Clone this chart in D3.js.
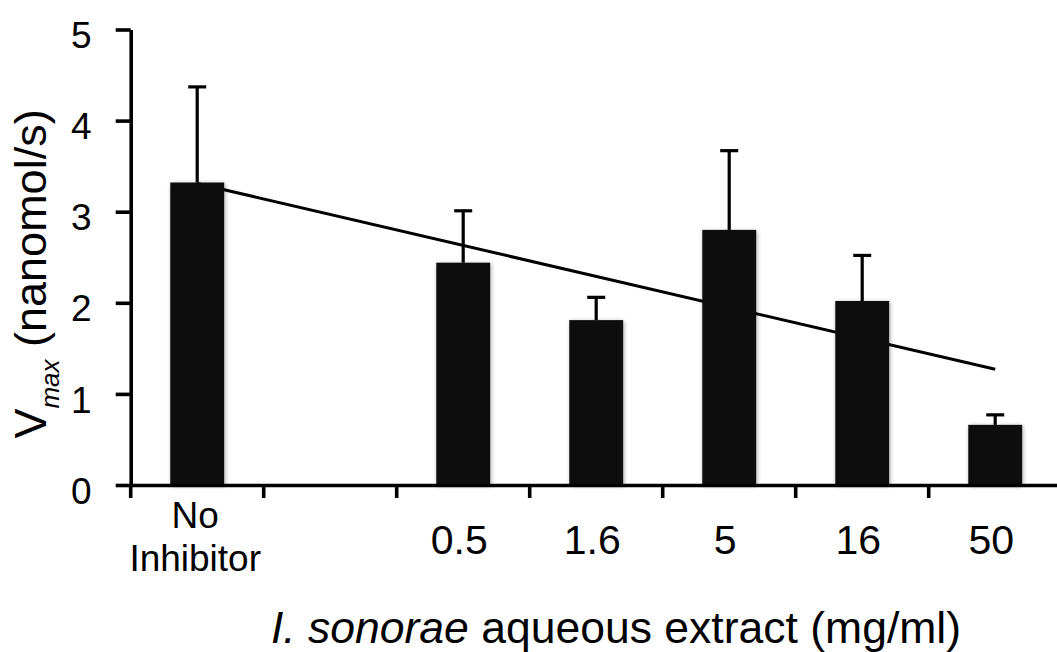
<!DOCTYPE html>
<html>
<head>
<meta charset="utf-8">
<script src="https://cdn.jsdelivr.net/npm/d3@7"></script>
<style>
	body { margin: 0; background: #fff; }
	text { font-family: "Liberation Sans", Arial, Helvetica, sans-serif; fill: #000; }
</style>
</head>
<body>
<script>
/*Data*/
var categories = ["No Inhibitor", "gap", "0.5", "1.6", "5", "16", "50"]
var vmax = [3.32, null, 2.44, 1.81, 2.80, 2.02, 0.66]
var errUpper = [1.05, null, 0.57, 0.25, 0.87, 0.50, 0.11]
var trendEnds = [3.31, 1.27]
var yTicks = [0, 1, 2, 3, 4, 5]

var canvas_width = 1057, canvas_height = 652

var svg = d3.select("body").append("svg")
			.attr("width", canvas_width)
			.attr("height", canvas_height)
			.attr("class", "canvas")

/*soft grey shadow round the bars*/
var filter = svg.append("defs").append("filter")
				.attr("id", "barShadow")
				.attr("x", "-30%").attr("y", "-10%")
				.attr("width", "160%").attr("height", "120%")
filter.append("feGaussianBlur").attr("in", "SourceAlpha").attr("stdDeviation", 2.2).attr("result", "blur")
filter.append("feOffset").attr("in", "blur").attr("dx", 1).attr("dy", 1).attr("result", "off")
filter.append("feComponentTransfer").attr("in", "off").attr("result", "soft")
	.append("feFuncA").attr("type", "linear").attr("slope", 0.35)
var merge = filter.append("feMerge")
merge.append("feMergeNode").attr("in", "soft")
merge.append("feMergeNode").attr("in", "SourceGraphic")

/*Scales*/
var xScale = d3.scaleBand()
			.domain(categories)
			.range([130.7, 130.7 + 7 * 133])
			.padding(0)

var yScale = d3.scaleLinear()
			.domain([0, 5])
			.range([485, 29.5])

var barWidth = xScale.bandwidth() * 0.405

function centre(c){
	return xScale(c) + xScale.bandwidth() / 2
}

/*Trend line, behind the bars*/
var first = categories[0], last = categories[categories.length - 1]
svg.append("line")
	.attr("x1", centre(first))
	.attr("y1", yScale(trendEnds[0]))
	.attr("x2", centre(last))
	.attr("y2", yScale(trendEnds[1]))
	.attr("stroke", "#000")
	.attr("stroke-width", 3)

var data = categories.map(function(c, i){
	return {cat: c, value: vmax[i], err: errUpper[i]}
}).filter(function(d){ return d.value != null })

/*Bars*/
svg.selectAll(".bar")
	.data(data)
	.enter()
	.append("rect")
	.attr("class", "bar")
	.attr("x", function(d){ return centre(d.cat) - barWidth / 2 })
	.attr("y", function(d){ return yScale(d.value) })
	.attr("width", barWidth)
	.attr("height", function(d){ return yScale(0) - yScale(d.value) })
	.attr("fill", "#0a0a0a")
	.attr("filter", "url(#barShadow)")

/*Error bars (upper only)*/
var err = svg.selectAll(".err")
			.data(data)
			.enter()
			.append("g")
			.attr("class", "err")
			.attr("stroke", "#000")
			.attr("stroke-width", 3.2)

err.append("line")
	.attr("x1", function(d){ return centre(d.cat) })
	.attr("x2", function(d){ return centre(d.cat) })
	.attr("y1", function(d){ return yScale(d.value) })
	.attr("y2", function(d){ return yScale(d.value + d.err) })

err.append("line")
	.attr("x1", function(d){ return centre(d.cat) - 9 })
	.attr("x2", function(d){ return centre(d.cat) + 9 })
	.attr("y1", function(d){ return yScale(d.value + d.err) })
	.attr("y2", function(d){ return yScale(d.value + d.err) })

/*Y axis*/
var yAxis = d3.axisLeft(yScale)
			.tickValues(yTicks)
			.tickFormat(d3.format("d"))
			.tickSize(15)
			.tickPadding(24)
			.tickSizeOuter(0)

var yG = svg.append("g")
			.attr("transform", "translate(130.7, 0)")
			.call(yAxis)
yG.select(".domain").attr("stroke-width", 3.6).attr("stroke", "#000")
yG.selectAll(".tick line").attr("stroke-width", 3.6).attr("stroke", "#000")
yG.selectAll(".tick text")
	.attr("font-size", 37)
	.attr("dy", "0.49em")
	.style("font-family", "Liberation Sans, Arial, sans-serif")

/*X axis: Excel style ticks between categories*/
var xAxis = d3.axisBottom(xScale).tickSize(0).tickFormat("").tickSizeOuter(0)
var xG = svg.append("g")
			.attr("transform", "translate(0, " + yScale(0) + ")")
			.call(xAxis)
xG.select(".domain").attr("stroke-width", 3.6).attr("stroke", "#000")

var boundaries = categories.map(function(c){ return xScale(c) })
xG.selectAll(".bound")
	.data(boundaries)
	.enter()
	.append("line")
	.attr("class", "bound")
	.attr("x1", function(d){ return d })
	.attr("x2", function(d){ return d })
	.attr("y1", 0)
	.attr("y2", 13)
	.attr("stroke", "#000")
	.attr("stroke-width", 3.6)

/*category labels*/
var labels = svg.append("g").attr("text-anchor", "middle")
categories.forEach(function(c){
	if(c == "gap") return
	if(c == "No Inhibitor"){
		var t = labels.append("text").attr("font-size", 37)
		t.append("tspan").attr("x", centre(c) - 2).attr("y", 528).text("No")
		t.append("tspan").attr("x", centre(c) - 2).attr("y", 571).text("Inhibitor")
	} else {
		labels.append("text")
			.attr("x", centre(c) - 4)
			.attr("y", 554)
			.attr("font-size", 41)
			.text(c)
	}
})

/*Axis titles*/
var xTitle = svg.append("text")
			.attr("x", 616)
			.attr("y", 643)
			.attr("text-anchor", "middle")
			.attr("font-size", 44.5)
xTitle.append("tspan").attr("font-style", "italic").text("I. sonorae")
xTitle.append("tspan").text(" aqueous extract (mg/ml)")

var yTitle = svg.append("text")
			.attr("transform", "translate(46, 274) rotate(-90)")
			.attr("text-anchor", "middle")
			.attr("font-size", 45)
yTitle.append("tspan").text("V")
yTitle.append("tspan").attr("font-style", "italic").attr("font-size", 26).attr("dy", 13).text("max")
yTitle.append("tspan").attr("dy", -13).text(" (nanomol/s)")

</script>
</body>
</html>
